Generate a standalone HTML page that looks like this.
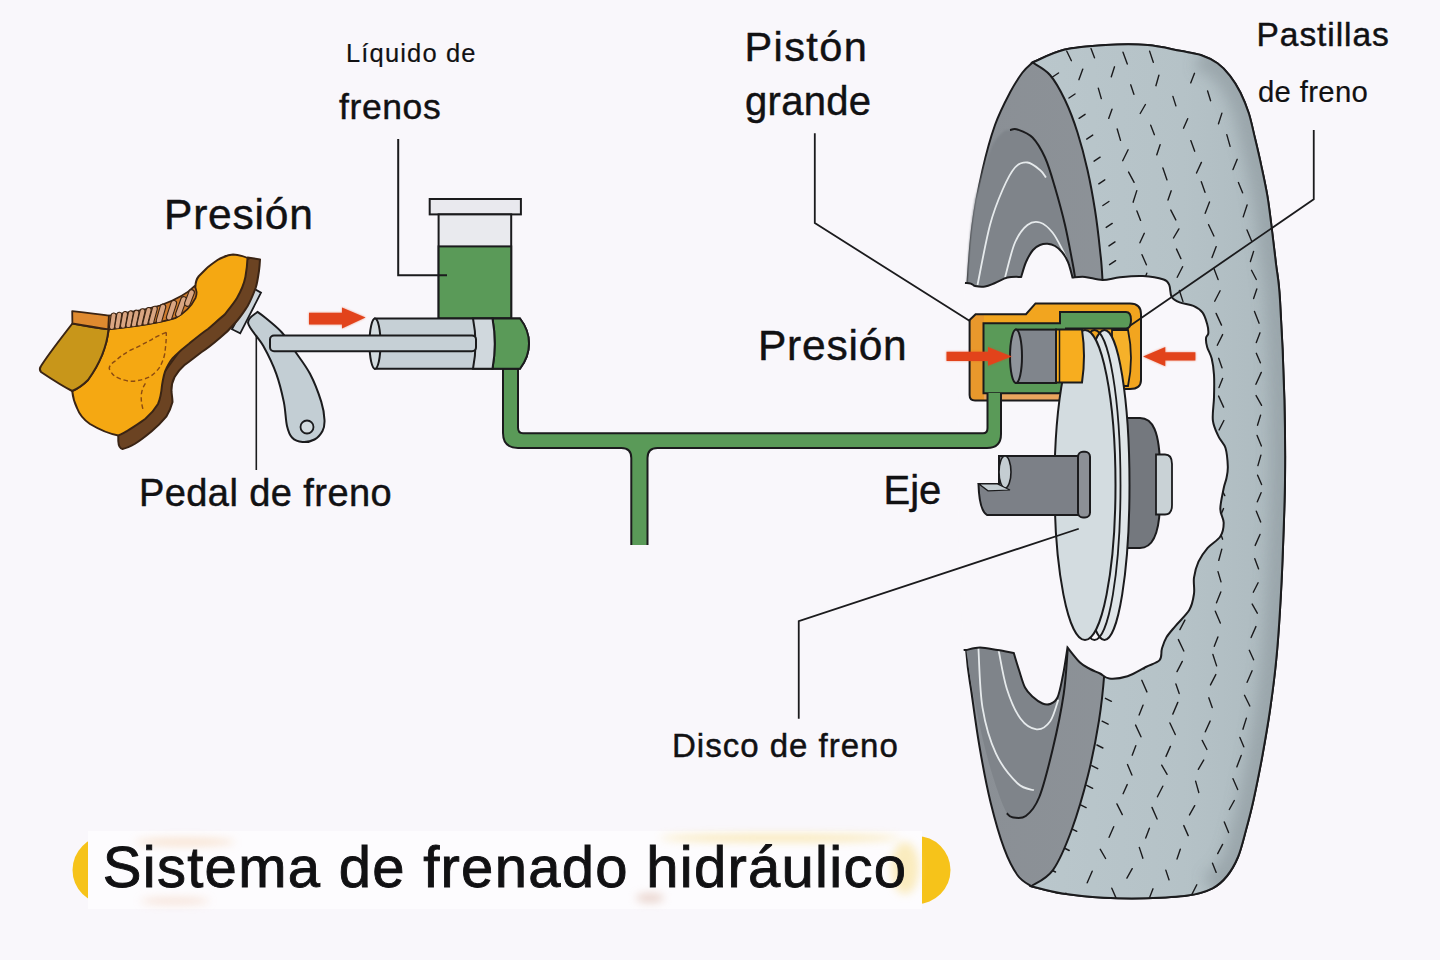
<!DOCTYPE html>
<html><head><meta charset="utf-8"><title>Sistema de frenado hidráulico</title>
<style>html,body{margin:0;padding:0;background:#f9f7fb;} svg{display:block;}</style>
</head><body>
<svg width="1440" height="960" viewBox="0 0 1440 960">
<rect width="1440" height="960" fill="#f9f7fb"/>
<defs><mask id="tm"><rect width="1440" height="960" fill="black"/><path d="M1032.5,62.5 C1037.8,60.4 1051.8,52.7 1064.0,49.8 C1076.2,46.9 1091.9,45.8 1105.8,45.0 C1119.7,44.2 1135.1,44.0 1147.5,45.0 C1159.9,46.0 1171.1,49.1 1180.0,50.8 C1188.9,52.5 1194.5,52.9 1200.8,55.0 C1207.0,57.1 1212.6,59.8 1217.5,63.3 C1222.4,66.8 1226.2,70.9 1230.0,75.8 C1233.8,80.7 1237.3,86.2 1240.4,92.5 C1243.5,98.8 1246.3,105.7 1248.8,113.3 C1251.2,120.9 1252.9,129.6 1255.0,138.3 C1257.1,147.0 1259.2,155.7 1261.2,165.4 C1263.3,175.1 1265.8,186.3 1267.5,196.7 C1269.2,207.1 1270.3,216.8 1271.7,228.0 C1273.1,239.2 1274.6,252.0 1276.0,264.0 C1277.4,276.0 1278.6,277.3 1280.0,300.0 C1281.4,322.7 1283.6,370.0 1284.4,400.0 C1285.2,430.0 1285.3,453.3 1285.0,480.0 C1284.7,506.7 1283.3,538.3 1282.5,560.0 C1281.7,581.7 1281.0,593.3 1280.0,610.0 C1279.0,626.7 1277.9,643.3 1276.2,660.0 C1274.6,676.7 1272.3,694.2 1270.0,710.0 C1267.7,725.8 1265.2,740.0 1262.5,755.0 C1259.8,770.0 1256.2,787.5 1253.5,800.0 C1250.8,812.5 1248.6,820.5 1246.0,830.0 C1243.4,839.5 1241.2,849.3 1238.0,857.0 C1234.8,864.7 1231.2,870.8 1227.0,876.0 C1222.8,881.2 1219.1,885.0 1212.5,888.3 C1205.9,891.6 1198.6,893.9 1187.5,895.6 C1176.4,897.3 1159.7,897.9 1145.8,898.3 C1131.9,898.6 1117.9,898.5 1104.0,897.7 C1090.1,896.9 1074.6,895.4 1062.5,893.5 C1050.4,891.6 1036.5,887.5 1031.2,886.2 L1031.2,886.2 C1029.0,884.5 1022.2,881.8 1017.7,875.5 C1013.2,869.2 1008.6,860.6 1004.1,848.4 C999.6,836.2 994.7,819.1 990.6,802.4 C986.5,785.7 982.9,766.4 979.8,748.3 C976.6,730.2 974.0,710.2 971.7,694.0 C969.4,677.8 967.8,673.1 966.2,650.8 C964.6,628.5 963.0,590.1 962.0,560.0 C961.0,529.9 960.0,500.0 960.0,470.0 C960.0,440.0 960.8,411.2 962.0,380.0 C963.2,348.8 965.8,308.3 967.5,282.5 C969.2,256.7 970.0,243.8 972.5,225.0 C975.0,206.2 978.8,186.7 982.5,170.0 C986.2,153.3 990.4,137.9 995.0,125.0 C999.6,112.1 1005.4,101.2 1010.0,92.5 C1014.6,83.8 1018.8,77.5 1022.5,72.5 C1026.2,67.5 1030.8,64.2 1032.5,62.5 Z" fill="white" stroke="white" stroke-width="5"/></mask><linearGradient id="tg" x1="0" x2="1" y1="0" y2="0"><stop offset="0" stop-color="#bac7cc"/><stop offset="0.6" stop-color="#b5c2c7"/><stop offset="1" stop-color="#adbabf"/></linearGradient><linearGradient id="sg" x1="0" x2="1" y1="0" y2="0"><stop offset="0" stop-color="#8a8f95"/><stop offset="1" stop-color="#8f959a"/></linearGradient><filter id="bl" x="-20%" y="-50%" width="140%" height="200%"><feGaussianBlur stdDeviation="1.2"/></filter><filter id="bl3" x="-20%" y="-20%" width="140%" height="140%"><feGaussianBlur stdDeviation="4"/></filter><filter id="bl6" x="-50%" y="-10%" width="200%" height="120%"><feGaussianBlur stdDeviation="7"/></filter></defs>
<path d="M1032.5,62.5 C1037.8,60.4 1051.8,52.7 1064.0,49.8 C1076.2,46.9 1091.9,45.8 1105.8,45.0 C1119.7,44.2 1135.1,44.0 1147.5,45.0 C1159.9,46.0 1171.1,49.1 1180.0,50.8 C1188.9,52.5 1194.5,52.9 1200.8,55.0 C1207.0,57.1 1212.6,59.8 1217.5,63.3 C1222.4,66.8 1226.2,70.9 1230.0,75.8 C1233.8,80.7 1237.3,86.2 1240.4,92.5 C1243.5,98.8 1246.3,105.7 1248.8,113.3 C1251.2,120.9 1252.9,129.6 1255.0,138.3 C1257.1,147.0 1259.2,155.7 1261.2,165.4 C1263.3,175.1 1265.8,186.3 1267.5,196.7 C1269.2,207.1 1270.3,216.8 1271.7,228.0 C1273.1,239.2 1274.6,252.0 1276.0,264.0 C1277.4,276.0 1278.6,277.3 1280.0,300.0 C1281.4,322.7 1283.6,370.0 1284.4,400.0 C1285.2,430.0 1285.3,453.3 1285.0,480.0 C1284.7,506.7 1283.3,538.3 1282.5,560.0 C1281.7,581.7 1281.0,593.3 1280.0,610.0 C1279.0,626.7 1277.9,643.3 1276.2,660.0 C1274.6,676.7 1272.3,694.2 1270.0,710.0 C1267.7,725.8 1265.2,740.0 1262.5,755.0 C1259.8,770.0 1256.2,787.5 1253.5,800.0 C1250.8,812.5 1248.6,820.5 1246.0,830.0 C1243.4,839.5 1241.2,849.3 1238.0,857.0 C1234.8,864.7 1231.2,870.8 1227.0,876.0 C1222.8,881.2 1219.1,885.0 1212.5,888.3 C1205.9,891.6 1198.6,893.9 1187.5,895.6 C1176.4,897.3 1159.7,897.9 1145.8,898.3 C1131.9,898.6 1117.9,898.5 1104.0,897.7 C1090.1,896.9 1074.6,895.4 1062.5,893.5 C1050.4,891.6 1036.5,887.5 1031.2,886.2 L1031.2,886.2 C1029.0,884.5 1022.2,881.8 1017.7,875.5 C1013.2,869.2 1008.6,860.6 1004.1,848.4 C999.6,836.2 994.7,819.1 990.6,802.4 C986.5,785.7 982.9,766.4 979.8,748.3 C976.6,730.2 974.0,710.2 971.7,694.0 C969.4,677.8 967.8,673.1 966.2,650.8 C964.6,628.5 963.0,590.1 962.0,560.0 C961.0,529.9 960.0,500.0 960.0,470.0 C960.0,440.0 960.8,411.2 962.0,380.0 C963.2,348.8 965.8,308.3 967.5,282.5 C969.2,256.7 970.0,243.8 972.5,225.0 C975.0,206.2 978.8,186.7 982.5,170.0 C986.2,153.3 990.4,137.9 995.0,125.0 C999.6,112.1 1005.4,101.2 1010.0,92.5 C1014.6,83.8 1018.8,77.5 1022.5,72.5 C1026.2,67.5 1030.8,64.2 1032.5,62.5 Z" fill="url(#sg)" stroke="#1b1b1d" stroke-width="2"/>
<path d="M1032.5,62.5 C1037.8,60.4 1051.8,52.7 1064.0,49.8 C1076.2,46.9 1091.9,45.8 1105.8,45.0 C1119.7,44.2 1135.1,44.0 1147.5,45.0 C1159.9,46.0 1171.1,49.1 1180.0,50.8 C1188.9,52.5 1194.5,52.9 1200.8,55.0 C1207.0,57.1 1212.6,59.8 1217.5,63.3 C1222.4,66.8 1226.2,70.9 1230.0,75.8 C1233.8,80.7 1237.3,86.2 1240.4,92.5 C1243.5,98.8 1246.3,105.7 1248.8,113.3 C1251.2,120.9 1252.9,129.6 1255.0,138.3 C1257.1,147.0 1259.2,155.7 1261.2,165.4 C1263.3,175.1 1265.8,186.3 1267.5,196.7 C1269.2,207.1 1270.3,216.8 1271.7,228.0 C1273.1,239.2 1274.6,252.0 1276.0,264.0 C1277.4,276.0 1278.6,277.3 1280.0,300.0 C1281.4,322.7 1283.6,370.0 1284.4,400.0 C1285.2,430.0 1285.3,453.3 1285.0,480.0 C1284.7,506.7 1283.3,538.3 1282.5,560.0 C1281.7,581.7 1281.0,593.3 1280.0,610.0 C1279.0,626.7 1277.9,643.3 1276.2,660.0 C1274.6,676.7 1272.3,694.2 1270.0,710.0 C1267.7,725.8 1265.2,740.0 1262.5,755.0 C1259.8,770.0 1256.2,787.5 1253.5,800.0 C1250.8,812.5 1248.6,820.5 1246.0,830.0 C1243.4,839.5 1241.2,849.3 1238.0,857.0 C1234.8,864.7 1231.2,870.8 1227.0,876.0 C1222.8,881.2 1219.1,885.0 1212.5,888.3 C1205.9,891.6 1198.6,893.9 1187.5,895.6 C1176.4,897.3 1159.7,897.9 1145.8,898.3 C1131.9,898.6 1117.9,898.5 1104.0,897.7 C1090.1,896.9 1074.6,895.4 1062.5,893.5 C1050.4,891.6 1036.5,887.5 1031.2,886.2 L1031.2,886.2 C1034.9,883.6 1046.1,879.6 1052.9,870.1 C1059.7,860.6 1066.0,845.3 1071.8,829.5 C1077.6,813.7 1083.5,793.3 1088.0,775.3 C1092.5,757.2 1096.2,738.1 1098.9,721.2 C1101.6,704.3 1102.8,694.0 1104.3,673.8 C1105.8,653.6 1107.0,632.3 1108.0,600.0 C1109.0,567.7 1110.2,516.7 1110.0,480.0 C1109.8,443.3 1108.2,413.3 1107.0,380.0 C1105.8,346.7 1103.7,301.7 1102.5,280.0 C1101.3,258.3 1101.2,261.7 1100.0,250.0 C1098.8,238.3 1097.1,223.3 1095.0,210.0 C1092.9,196.7 1090.4,182.9 1087.5,170.0 C1084.6,157.1 1081.2,144.2 1077.5,132.5 C1073.8,120.8 1069.6,109.6 1065.0,100.0 C1060.4,90.4 1055.4,81.2 1050.0,75.0 C1044.6,68.8 1035.4,64.6 1032.5,62.5 Z" fill="url(#tg)"/>
<clipPath id="tc2"><path d="M1032.5,62.5 C1037.8,60.4 1051.8,52.7 1064.0,49.8 C1076.2,46.9 1091.9,45.8 1105.8,45.0 C1119.7,44.2 1135.1,44.0 1147.5,45.0 C1159.9,46.0 1171.1,49.1 1180.0,50.8 C1188.9,52.5 1194.5,52.9 1200.8,55.0 C1207.0,57.1 1212.6,59.8 1217.5,63.3 C1222.4,66.8 1226.2,70.9 1230.0,75.8 C1233.8,80.7 1237.3,86.2 1240.4,92.5 C1243.5,98.8 1246.3,105.7 1248.8,113.3 C1251.2,120.9 1252.9,129.6 1255.0,138.3 C1257.1,147.0 1259.2,155.7 1261.2,165.4 C1263.3,175.1 1265.8,186.3 1267.5,196.7 C1269.2,207.1 1270.3,216.8 1271.7,228.0 C1273.1,239.2 1274.6,252.0 1276.0,264.0 C1277.4,276.0 1278.6,277.3 1280.0,300.0 C1281.4,322.7 1283.6,370.0 1284.4,400.0 C1285.2,430.0 1285.3,453.3 1285.0,480.0 C1284.7,506.7 1283.3,538.3 1282.5,560.0 C1281.7,581.7 1281.0,593.3 1280.0,610.0 C1279.0,626.7 1277.9,643.3 1276.2,660.0 C1274.6,676.7 1272.3,694.2 1270.0,710.0 C1267.7,725.8 1265.2,740.0 1262.5,755.0 C1259.8,770.0 1256.2,787.5 1253.5,800.0 C1250.8,812.5 1248.6,820.5 1246.0,830.0 C1243.4,839.5 1241.2,849.3 1238.0,857.0 C1234.8,864.7 1231.2,870.8 1227.0,876.0 C1222.8,881.2 1219.1,885.0 1212.5,888.3 C1205.9,891.6 1198.6,893.9 1187.5,895.6 C1176.4,897.3 1159.7,897.9 1145.8,898.3 C1131.9,898.6 1117.9,898.5 1104.0,897.7 C1090.1,896.9 1074.6,895.4 1062.5,893.5 C1050.4,891.6 1036.5,887.5 1031.2,886.2 L1031.2,886.2 C1034.9,883.6 1046.1,879.6 1052.9,870.1 C1059.7,860.6 1066.0,845.3 1071.8,829.5 C1077.6,813.7 1083.5,793.3 1088.0,775.3 C1092.5,757.2 1096.2,738.1 1098.9,721.2 C1101.6,704.3 1102.8,694.0 1104.3,673.8 C1105.8,653.6 1107.0,632.3 1108.0,600.0 C1109.0,567.7 1110.2,516.7 1110.0,480.0 C1109.8,443.3 1108.2,413.3 1107.0,380.0 C1105.8,346.7 1103.7,301.7 1102.5,280.0 C1101.3,258.3 1101.2,261.7 1100.0,250.0 C1098.8,238.3 1097.1,223.3 1095.0,210.0 C1092.9,196.7 1090.4,182.9 1087.5,170.0 C1084.6,157.1 1081.2,144.2 1077.5,132.5 C1073.8,120.8 1069.6,109.6 1065.0,100.0 C1060.4,90.4 1055.4,81.2 1050.0,75.0 C1044.6,68.8 1035.4,64.6 1032.5,62.5 Z"/></clipPath><g clip-path="url(#tc2)"><path d="M1200.8,55.0 C1203.6,56.4 1212.6,59.8 1217.5,63.3 C1222.4,66.8 1226.2,70.9 1230.0,75.8 C1233.8,80.7 1237.3,86.2 1240.4,92.5 C1243.5,98.8 1246.3,105.7 1248.8,113.3 C1251.2,120.9 1252.9,129.6 1255.0,138.3 C1257.1,147.0 1259.2,155.7 1261.2,165.4 C1263.3,175.1 1265.8,186.3 1267.5,196.7 C1269.2,207.1 1270.3,216.8 1271.7,228.0 C1273.1,239.2 1274.6,252.0 1276.0,264.0 C1277.4,276.0 1278.6,277.3 1280.0,300.0 C1281.4,322.7 1283.6,370.0 1284.4,400.0 C1285.2,430.0 1285.3,453.3 1285.0,480.0 C1284.7,506.7 1283.3,538.3 1282.5,560.0 C1281.7,581.7 1281.0,593.3 1280.0,610.0 C1279.0,626.7 1277.9,643.3 1276.2,660.0 C1274.6,676.7 1272.3,694.2 1270.0,710.0 C1267.7,725.8 1265.2,740.0 1262.5,755.0 C1259.8,770.0 1256.2,787.5 1253.5,800.0 C1250.8,812.5 1248.6,820.5 1246.0,830.0 C1243.4,839.5 1241.2,849.3 1238.0,857.0 C1234.8,864.7 1231.2,870.8 1227.0,876.0 C1222.8,881.2 1214.9,886.2 1212.5,888.3" fill="none" stroke="#97a3a8" stroke-width="30" filter="url(#bl6)" opacity="0.85"/></g>
<path d="M1032.5,62.5 C1037.8,60.4 1051.8,52.7 1064.0,49.8 C1076.2,46.9 1091.9,45.8 1105.8,45.0 C1119.7,44.2 1135.1,44.0 1147.5,45.0 C1159.9,46.0 1171.1,49.1 1180.0,50.8 C1188.9,52.5 1194.5,52.9 1200.8,55.0 C1207.0,57.1 1212.6,59.8 1217.5,63.3 C1222.4,66.8 1226.2,70.9 1230.0,75.8 C1233.8,80.7 1237.3,86.2 1240.4,92.5 C1243.5,98.8 1246.3,105.7 1248.8,113.3 C1251.2,120.9 1252.9,129.6 1255.0,138.3 C1257.1,147.0 1259.2,155.7 1261.2,165.4 C1263.3,175.1 1265.8,186.3 1267.5,196.7 C1269.2,207.1 1270.3,216.8 1271.7,228.0 C1273.1,239.2 1274.6,252.0 1276.0,264.0 C1277.4,276.0 1278.6,277.3 1280.0,300.0 C1281.4,322.7 1283.6,370.0 1284.4,400.0 C1285.2,430.0 1285.3,453.3 1285.0,480.0 C1284.7,506.7 1283.3,538.3 1282.5,560.0 C1281.7,581.7 1281.0,593.3 1280.0,610.0 C1279.0,626.7 1277.9,643.3 1276.2,660.0 C1274.6,676.7 1272.3,694.2 1270.0,710.0 C1267.7,725.8 1265.2,740.0 1262.5,755.0 C1259.8,770.0 1256.2,787.5 1253.5,800.0 C1250.8,812.5 1248.6,820.5 1246.0,830.0 C1243.4,839.5 1241.2,849.3 1238.0,857.0 C1234.8,864.7 1231.2,870.8 1227.0,876.0 C1222.8,881.2 1219.1,885.0 1212.5,888.3 C1205.9,891.6 1198.6,893.9 1187.5,895.6 C1176.4,897.3 1159.7,897.9 1145.8,898.3 C1131.9,898.6 1117.9,898.5 1104.0,897.7 C1090.1,896.9 1074.6,895.4 1062.5,893.5 C1050.4,891.6 1036.5,887.5 1031.2,886.2 L1031.2,886.2 C1034.9,883.6 1046.1,879.6 1052.9,870.1 C1059.7,860.6 1066.0,845.3 1071.8,829.5 C1077.6,813.7 1083.5,793.3 1088.0,775.3 C1092.5,757.2 1096.2,738.1 1098.9,721.2 C1101.6,704.3 1102.8,694.0 1104.3,673.8 C1105.8,653.6 1107.0,632.3 1108.0,600.0 C1109.0,567.7 1110.2,516.7 1110.0,480.0 C1109.8,443.3 1108.2,413.3 1107.0,380.0 C1105.8,346.7 1103.7,301.7 1102.5,280.0 C1101.3,258.3 1101.2,261.7 1100.0,250.0 C1098.8,238.3 1097.1,223.3 1095.0,210.0 C1092.9,196.7 1090.4,182.9 1087.5,170.0 C1084.6,157.1 1081.2,144.2 1077.5,132.5 C1073.8,120.8 1069.6,109.6 1065.0,100.0 C1060.4,90.4 1055.4,81.2 1050.0,75.0 C1044.6,68.8 1035.4,64.6 1032.5,62.5 Z" fill="none" stroke="#1b1b1d" stroke-width="2"/>
<path d="M975.0,200.0 C977.5,191.7 985.3,161.3 990.0,150.0 C994.7,138.7 999.7,135.3 1003.0,132.0 C1006.3,128.7 1007.6,130.4 1010.0,130.0 C1012.4,129.6 1013.8,128.2 1017.5,129.5 C1021.2,130.8 1027.9,132.8 1032.5,137.5 C1037.1,142.2 1041.2,149.2 1045.0,157.5 C1048.8,165.8 1051.7,176.2 1055.0,187.5 C1058.3,198.8 1062.1,212.5 1065.0,225.0 C1067.9,237.5 1070.8,253.8 1072.5,262.5 C1074.2,271.2 1074.6,275.0 1075.0,277.5 L1075,285 L967,285 C968,260 970,230 975,200 Z" fill="#7f848a" filter="url(#bl)"/>
<path d="M1010.0,130.0 C1011.2,129.9 1013.8,128.2 1017.5,129.5 C1021.2,130.8 1027.9,132.8 1032.5,137.5 C1037.1,142.2 1041.2,149.2 1045.0,157.5 C1048.8,165.8 1051.7,176.2 1055.0,187.5 C1058.3,198.8 1062.1,212.5 1065.0,225.0 C1067.9,237.5 1070.8,253.8 1072.5,262.5 C1074.2,271.2 1074.6,275.0 1075.0,277.5" fill="none" stroke="#1b1b1d" stroke-width="2"/>
<path d="M977.5,285.0 C979.6,275.0 985.8,240.8 990.0,225.0 C994.2,209.2 998.3,199.6 1002.5,190.0 C1006.7,180.4 1010.8,172.1 1015.0,167.5 C1019.2,162.9 1023.3,162.1 1027.5,162.5 C1031.7,162.9 1036.9,167.5 1040.0,170.0 C1043.1,172.5 1045.0,176.2 1046.0,177.5" fill="none" stroke="#e6eaec" stroke-width="1.8"/>
<path d="M1005.0,277.5 C1006.7,271.7 1011.2,251.2 1015.0,242.5 C1018.8,233.8 1023.3,228.3 1027.5,225.0 C1031.7,221.7 1035.8,221.2 1040.0,222.5 C1044.2,223.8 1048.8,227.9 1052.5,232.5 C1056.2,237.1 1059.6,244.2 1062.5,250.0 C1065.4,255.8 1068.8,264.6 1070.0,267.5" fill="none" stroke="#e6eaec" stroke-width="1.8"/>
<path d="M966,648 L1068,648 L1067.8,648.1 C1067.1,655.8 1066.2,677.3 1063.7,694.0 C1061.2,710.7 1057.0,731.1 1052.9,748.3 C1048.8,765.5 1043.8,785.7 1039.3,797.0 C1034.8,808.3 1030.3,812.6 1025.8,816.0 C1021.3,819.4 1015.5,817.8 1012.3,817.3 C1009.1,816.8 1007.7,814.0 1006.8,813.3 C1000,800 990,770 983,740 C976,710 970,680 966,648 Z" fill="#7f848a"/>
<path d="M1067.8,648.1 C1067.1,655.8 1066.2,677.3 1063.7,694.0 C1061.2,710.7 1057.0,731.1 1052.9,748.3 C1048.8,765.5 1043.8,785.7 1039.3,797.0 C1034.8,808.3 1030.3,812.6 1025.8,816.0 C1021.3,819.4 1015.5,817.8 1012.3,817.3 C1009.1,816.8 1007.7,814.0 1006.8,813.3" fill="none" stroke="#1b1b1d" stroke-width="2"/>
<path d="M978.4,648.0 C979.1,658.0 979.6,690.1 982.5,707.7 C985.4,725.3 990.1,741.1 996.0,753.7 C1001.9,766.3 1011.4,777.4 1017.7,783.5 C1024.0,789.6 1031.2,789.1 1033.9,790.2" fill="none" stroke="#e6eaec" stroke-width="1.8"/>
<path d="M998.7,650.8 C1000.1,657.1 1003.2,677.4 1006.8,688.7 C1010.4,700.0 1015.4,711.7 1020.4,718.5 C1025.4,725.3 1031.6,728.8 1036.6,729.3 C1041.6,729.8 1046.6,726.2 1050.2,721.2 C1053.8,716.2 1057.0,703.2 1058.3,699.6" fill="none" stroke="#e6eaec" stroke-width="1.8"/>
<clipPath id="tc"><path d="M1032.5,62.5 C1037.8,60.4 1051.8,52.7 1064.0,49.8 C1076.2,46.9 1091.9,45.8 1105.8,45.0 C1119.7,44.2 1135.1,44.0 1147.5,45.0 C1159.9,46.0 1171.1,49.1 1180.0,50.8 C1188.9,52.5 1194.5,52.9 1200.8,55.0 C1207.0,57.1 1212.6,59.8 1217.5,63.3 C1222.4,66.8 1226.2,70.9 1230.0,75.8 C1233.8,80.7 1237.3,86.2 1240.4,92.5 C1243.5,98.8 1246.3,105.7 1248.8,113.3 C1251.2,120.9 1252.9,129.6 1255.0,138.3 C1257.1,147.0 1259.2,155.7 1261.2,165.4 C1263.3,175.1 1265.8,186.3 1267.5,196.7 C1269.2,207.1 1270.3,216.8 1271.7,228.0 C1273.1,239.2 1274.6,252.0 1276.0,264.0 C1277.4,276.0 1278.6,277.3 1280.0,300.0 C1281.4,322.7 1283.6,370.0 1284.4,400.0 C1285.2,430.0 1285.3,453.3 1285.0,480.0 C1284.7,506.7 1283.3,538.3 1282.5,560.0 C1281.7,581.7 1281.0,593.3 1280.0,610.0 C1279.0,626.7 1277.9,643.3 1276.2,660.0 C1274.6,676.7 1272.3,694.2 1270.0,710.0 C1267.7,725.8 1265.2,740.0 1262.5,755.0 C1259.8,770.0 1256.2,787.5 1253.5,800.0 C1250.8,812.5 1248.6,820.5 1246.0,830.0 C1243.4,839.5 1241.2,849.3 1238.0,857.0 C1234.8,864.7 1231.2,870.8 1227.0,876.0 C1222.8,881.2 1219.1,885.0 1212.5,888.3 C1205.9,891.6 1198.6,893.9 1187.5,895.6 C1176.4,897.3 1159.7,897.9 1145.8,898.3 C1131.9,898.6 1117.9,898.5 1104.0,897.7 C1090.1,896.9 1074.6,895.4 1062.5,893.5 C1050.4,891.6 1036.5,887.5 1031.2,886.2 L1031.2,886.2 C1034.9,883.6 1046.1,879.6 1052.9,870.1 C1059.7,860.6 1066.0,845.3 1071.8,829.5 C1077.6,813.7 1083.5,793.3 1088.0,775.3 C1092.5,757.2 1096.2,738.1 1098.9,721.2 C1101.6,704.3 1102.8,694.0 1104.3,673.8 C1105.8,653.6 1107.0,632.3 1108.0,600.0 C1109.0,567.7 1110.2,516.7 1110.0,480.0 C1109.8,443.3 1108.2,413.3 1107.0,380.0 C1105.8,346.7 1103.7,301.7 1102.5,280.0 C1101.3,258.3 1101.2,261.7 1100.0,250.0 C1098.8,238.3 1097.1,223.3 1095.0,210.0 C1092.9,196.7 1090.4,182.9 1087.5,170.0 C1084.6,157.1 1081.2,144.2 1077.5,132.5 C1073.8,120.8 1069.6,109.6 1065.0,100.0 C1060.4,90.4 1055.4,81.2 1050.0,75.0 C1044.6,68.8 1035.4,64.6 1032.5,62.5 Z"/></clipPath><path d="M1066.8,51.2L1071.4,60.7 M1082.8,69.1L1078.9,79.7 M1098.3,88.1L1101.3,98.6 M1112.0,109.2L1108.7,118.4 M1117.2,129.0L1120.5,140.4 M1128.1,149.8L1122.7,160.7 M1128.6,172.1L1134.1,182.3 M1136.8,190.6L1133.1,202.2 M1136.9,211.0L1140.6,220.4 M1144.3,233.3L1139.9,242.8 M1142.0,254.7L1146.4,264.8 M1146.8,273.2L1143.3,282.3 M1144.2,294.4L1148.0,304.7 M1149.0,316.2L1145.3,326.6 M1146.3,339.3L1149.9,350.4 M1151.5,361.9L1146.3,372.5 M1146.9,384.8L1152.3,394.7 M1152.6,403.4L1147.7,413.7 M1149.1,422.6L1152.2,433.0 M1153.4,445.1L1148.9,456.3 M1149.4,469.6L1154.1,479.5 M1153.7,491.1L1149.6,501.8 M1149.3,514.9L1153.5,526.7 M1153.5,538.7L1148.8,547.9 M1148.4,559.8L1153.5,571.7 M1152.3,581.5L1147.7,591.6 M1147.5,599.7L1150.9,610.1 M1150.8,618.8L1145.9,628.0 M1145.4,636.8L1149.3,646.5 M1148.1,659.8L1144.0,669.0 M1141.8,680.3L1146.9,691.9 M1143.1,705.1L1139.1,715.0 M1135.6,725.1L1141.0,736.8 M1135.8,745.7L1132.2,755.2 M1127.5,764.6L1131.9,775.1 M1127.2,784.6L1123.1,793.7 M1116.9,803.9L1122.3,814.6 M1113.7,826.7L1109.1,837.3 M1100.3,849.3L1105.6,858.5 M1092.2,871.2L1087.2,882.8 M1066.0,893.1L1069.2,903.3 M1091.0,48.6L1094.5,57.8 M1114.5,66.8L1111.3,76.8 M1130.7,84.8L1133.9,94.3 M1145.4,104.5L1140.2,113.5 M1150.7,125.2L1154.4,134.7 M1160.1,144.7L1156.8,154.8 M1162.9,167.9L1167.0,179.9 M1171.2,190.8L1168.0,200.1 M1170.8,210.1L1175.8,219.9 M1178.9,228.9L1173.5,238.0 M1176.5,249.1L1180.9,258.6 M1182.6,266.7L1177.2,277.3 M1179.4,290.5L1183.0,301.6 M1184.8,311.8L1179.9,321.3 M1181.6,332.5L1185.4,343.8 M1186.7,353.2L1181.3,364.6 M1182.1,377.7L1187.2,389.1 M1187.4,401.6L1183.1,411.2 M1184.1,421.4L1187.1,430.5 M1188.3,440.1L1183.6,449.9 M1183.7,463.7L1189.1,474.0 M1188.4,487.9L1184.5,499.8 M1184.3,509.1L1187.8,518.8 M1188.3,528.0L1183.0,538.9 M1182.9,551.9L1187.5,562.4 M1186.7,575.2L1182.1,584.4 M1181.0,597.9L1185.8,609.2 M1184.9,620.1L1179.9,629.6 M1178.4,639.6L1183.8,651.0 M1182.3,661.4L1177.0,671.6 M1175.9,684.0L1179.2,693.5 M1177.8,702.4L1172.8,714.1 M1169.9,723.0L1175.3,734.5 M1170.4,746.4L1166.0,756.4 M1161.7,765.2L1167.1,774.3 M1162.8,786.2L1157.4,796.8 M1152.0,807.4L1157.1,819.0 M1149.4,828.2L1145.7,838.0 M1139.3,847.4L1142.9,858.2 M1132.2,868.7L1126.9,878.1 M1111.8,888.2L1116.3,898.6 M1123.0,52.2L1127.3,64.0 M1158.9,75.2L1155.9,85.7 M1172.9,96.4L1175.9,105.9 M1187.7,118.7L1183.5,128.2 M1190.8,140.6L1194.7,151.2 M1201.4,162.4L1196.5,173.0 M1201.3,181.7L1205.0,192.3 M1209.5,202.0L1205.2,213.3 M1208.6,224.7L1213.9,236.0 M1216.2,246.6L1212.0,257.5 M1213.9,268.5L1218.1,279.6 M1220.1,290.8L1214.7,301.2 M1216.1,313.4L1221.5,325.1 M1222.6,334.6L1217.3,345.3 M1218.7,358.3L1222.0,367.8 M1222.6,378.4L1219.0,387.6 M1218.6,396.1L1223.6,407.1 M1223.9,420.5L1219.1,429.9 M1219.2,441.9L1224.4,451.3 M1224.8,465.1L1219.4,474.8 M1219.3,485.2L1224.8,495.6 M1223.5,508.6L1219.4,518.1 M1219.1,529.2L1222.6,539.2 M1221.8,549.1L1218.8,560.3 M1218.0,571.6L1221.0,581.9 M1220.8,591.9L1216.5,602.8 M1215.3,611.2L1220.3,623.1 M1217.9,637.0L1214.3,646.3 M1212.9,654.5L1216.6,665.9 M1215.8,674.6L1210.5,684.9 M1208.8,697.8L1212.2,707.6 M1210.1,721.1L1205.3,731.8 M1202.2,740.4L1206.9,749.5 M1203.7,760.1L1198.3,769.3 M1195.6,781.1L1198.8,792.5 M1194.7,805.7L1189.5,814.9 M1183.8,825.6L1188.2,835.6 M1180.3,849.2L1177.0,859.0 M1165.8,870.1L1169.0,879.8 M1153.0,888.8L1149.4,898.0 M1149.6,51.1L1153.3,62.3 M1194.5,73.3L1190.7,82.9 M1207.6,91.0L1210.6,100.7 M1221.9,113.1L1218.5,123.8 M1226.8,134.6L1230.1,146.4 M1237.2,159.3L1233.0,169.6 M1238.4,182.6L1242.6,192.8 M1247.1,205.0L1243.2,216.9 M1247.0,229.9L1251.6,241.0 M1253.6,251.4L1250.4,261.5 M1251.5,270.3L1256.3,279.5 M1256.8,289.0L1253.6,298.5 M1254.5,311.5L1259.1,323.2 M1260.0,332.8L1256.3,342.6 M1256.3,353.3L1260.4,362.8 M1261.3,372.4L1255.9,384.3 M1256.1,395.6L1261.6,405.3 M1260.6,415.1L1257.5,425.2 M1257.1,435.5L1261.4,445.9 M1260.9,455.1L1257.9,465.6 M1257.6,475.2L1261.6,484.5 M1261.1,492.7L1257.3,501.8 M1256.3,511.2L1260.7,522.0 M1260.0,534.5L1255.2,545.4 M1254.8,558.7L1258.6,568.9 M1258.1,582.8L1253.3,592.2 M1252.2,604.1L1257.3,613.2 M1255.9,626.6L1251.1,637.5 M1249.3,650.3L1253.6,659.8 M1252.1,670.8L1247.1,682.3 M1244.5,695.3L1249.8,706.0 M1246.4,718.1L1242.9,729.2 M1239.9,737.4L1243.8,746.8 M1241.2,755.4L1236.8,766.9 M1233.0,778.7L1237.7,789.5 M1234.3,800.5L1229.3,809.5 M1224.3,822.0L1228.6,832.5 M1222.6,844.4L1217.7,853.6 M1212.5,863.2L1216.2,872.4 M1196.8,884.8L1191.9,894.4 M1052.5,77.0L1058.5,73.0 M1069.0,98.0L1075.0,94.0 M1079.1,118.3L1085.1,114.3 M1086.7,139.1L1092.7,135.1 M1094.1,161.2L1100.1,157.2 M1098.8,183.8L1104.8,179.8 M1102.9,205.5L1108.9,201.5 M1106.2,227.4L1112.2,223.4 M1109.0,245.9L1115.0,241.9 M1109.6,264.7L1115.6,260.7 M1110.2,284.3L1116.2,280.3 M1105.4,698.3L1111.4,701.3 M1102.1,721.2L1108.1,724.2 M1096.9,745.0L1102.9,748.0 M1091.7,765.7L1097.7,768.7 M1086.7,785.3L1092.7,788.3 M1080.1,804.6L1086.1,807.6 M1070.8,828.3L1076.8,831.3 M1063.2,847.5L1069.2,850.5 M1049.5,869.0L1055.5,872.0" stroke="#1b1b1d" stroke-width="1.4" fill="none" stroke-linecap="round" clip-path="url(#tc)"/>
<g mask="url(#tm)"><path d="M930.0,283.0 C936.1,283.0 959.4,282.5 966.9,283.0 C974.4,283.5 972.0,285.4 975.0,286.0 C978.0,286.6 981.7,287.0 985.0,286.5 C988.3,286.0 991.2,284.5 995.0,283.0 C998.8,281.5 1003.1,278.5 1007.5,277.5 C1011.9,276.5 1019.0,277.0 1021.2,276.9 L1021.2,276.9 C1022.0,274.4 1024.0,266.5 1026.0,262.0 C1028.0,257.5 1030.7,252.8 1033.0,250.0 C1035.3,247.2 1037.6,246.0 1040.0,245.0 C1042.4,244.0 1045.0,243.6 1047.5,243.8 C1050.0,244.0 1052.6,244.6 1055.0,246.0 C1057.4,247.4 1059.8,249.3 1062.0,252.0 C1064.2,254.7 1066.2,257.8 1068.0,262.0 C1069.8,266.2 1071.8,274.9 1072.5,277.5 L1072.5,277.5 C1074.6,277.4 1080.0,276.5 1085.0,276.9 C1090.0,277.3 1096.7,279.9 1102.5,280.0 C1108.3,280.1 1113.2,277.9 1120.0,277.2 C1126.8,276.5 1135.7,275.6 1143.0,276.0 C1150.3,276.4 1159.2,278.0 1163.6,279.5 C1168.0,281.0 1168.0,282.3 1169.3,285.2 C1170.6,288.1 1169.9,293.8 1171.6,296.7 C1173.3,299.6 1176.0,300.9 1179.6,302.4 C1183.2,303.9 1189.6,304.2 1193.4,305.9 C1197.2,307.6 1200.3,309.6 1202.6,312.7 C1204.9,315.8 1206.2,320.8 1207.2,324.2 C1208.2,327.6 1208.5,331.1 1208.3,333.4 C1208.1,335.7 1206.2,335.7 1206.0,338.0 C1205.8,340.3 1206.2,343.8 1207.2,347.2 C1208.2,350.6 1210.6,354.0 1211.7,358.6 C1212.8,363.2 1213.6,368.2 1214.0,374.7 C1214.4,381.2 1214.2,390.0 1214.0,397.6 C1213.8,405.2 1212.1,414.1 1212.9,420.6 C1213.7,427.1 1216.5,432.0 1218.6,436.6 C1220.7,441.2 1224.0,443.0 1225.5,448.0 C1227.0,453.0 1227.6,461.4 1227.8,466.4 C1228.0,471.4 1227.2,474.4 1226.5,478.0 C1225.8,481.6 1224.7,483.1 1223.7,488.3 C1222.7,493.5 1220.3,503.3 1220.3,509.0 C1220.3,514.7 1223.7,518.1 1223.7,522.7 C1223.7,527.3 1223.0,532.3 1220.3,536.5 C1217.6,540.7 1211.3,543.7 1207.7,547.9 C1204.1,552.1 1200.8,556.7 1198.5,561.7 C1196.2,566.7 1194.8,572.4 1194.0,577.7 C1193.2,583.0 1194.8,588.4 1194.0,593.7 C1193.2,599.1 1192.5,604.4 1189.4,609.8 C1186.3,615.1 1179.4,621.2 1175.6,625.8 C1171.8,630.4 1168.8,633.5 1166.5,637.3 C1164.2,641.1 1163.1,644.9 1161.9,648.7 C1160.8,652.5 1162.3,657.2 1159.6,660.2 C1156.9,663.2 1151.1,664.3 1145.8,667.0 C1140.5,669.7 1133.6,674.3 1127.5,676.2 C1121.4,678.1 1113.8,679.0 1109.2,678.5 C1104.6,678.0 1103.2,675.1 1100.0,673.5 C1096.8,671.9 1093.3,670.8 1090.0,669.0 C1086.7,667.2 1083.8,666.1 1080.0,662.5 C1076.2,658.9 1069.6,650.0 1067.5,647.5 L1067.5,647.5 C1066.8,652.1 1064.7,666.7 1063.0,675.0 C1061.3,683.3 1059.7,692.7 1057.5,697.5 C1055.3,702.3 1052.5,703.0 1050.0,704.0 C1047.5,705.0 1045.3,704.7 1042.5,703.5 C1039.7,702.3 1035.9,699.7 1033.0,697.0 C1030.1,694.3 1027.3,692.0 1025.0,687.5 C1022.7,683.0 1020.9,675.8 1019.0,670.0 C1017.1,664.2 1014.6,655.8 1013.8,653.0 L1013.8,653.0 C1011.0,652.5 1003.1,650.9 997.5,650.0 C991.9,649.1 985.2,647.5 980.0,647.5 C974.8,647.5 968.5,649.6 966.2,650.0 L930,650 Z" fill="#f9f7fb" stroke="#1b1b1d" stroke-width="2"/></g>
<path d="M969.6,320 L975.6,314.2 L1026,314.2 L1035.5,303.4 L1130,303.4 Q1141,303.4 1141,314 L1141,380 Q1141,389 1130,389 L1100,389 L1062,400.5 L975,400.5 Q969.6,400.5 969.6,395 Z" fill="#f2a51f"/>
<path d="M969.6,320 L975.6,314.2 L984,314.2 L984,400.5 L975,400.5 Q969.6,400.5 969.6,395 Z" fill="#e8982c"/>
<rect x="984" y="393" width="78" height="7.5" fill="#e9a55e"/>
<path d="M969.6,320 L975.6,314.2 L1026,314.2 L1035.5,303.4 L1130,303.4 Q1141,303.4 1141,314 L1141,380 Q1141,389 1130,389 L1100,389 L1062,400.5 L975,400.5 Q969.6,400.5 969.6,395 Z" fill="none" stroke="#1b1b1d" stroke-width="2"/>
<path d="M983.5,323.2 L1060,323.2 L1060,312 L1126,312 Q1131,312 1131,320 Q1131,328.6 1126,328.6 L1066,328.6 L1066,385 L1060,393.3 L983.5,393.3 Z" fill="#5a9a58" stroke="#1b1b1d" stroke-width="2"/>
<path d="M1112,330 L1128,330 Q1134,358 1128,386 L1112,386 Z" fill="#f6b12a" stroke="#1b1b1d" stroke-width="1.8"/>
<path d="M631.3,545 L631.3,458 Q631.3,448 621.3,448 L518,448 Q503,448 503,433 L503,369 L518,369 L518,369 L518,427.5 Q518,433.3 523,433.3 L983,433.3 Q987.5,433.3 987.5,428 L987.5,393 L1001,393 L1001,434 Q1001,448 987,448 L657.5,448 Q647.5,448 647.5,458 L647.5,545 Z" fill="#5a9a58"/>
<path d="M631.3,545 L631.3,458 Q631.3,448 621.3,448 L518,448 Q503,448 503,433 L503,369" fill="none" stroke="#1b1b1d" stroke-width="2"/><path d="M518,369 L518,427.5 Q518,433.3 523,433.3 L983,433.3 Q987.5,433.3 987.5,428 L987.5,393" fill="none" stroke="#1b1b1d" stroke-width="2"/><path d="M1001,393 L1001,434 Q1001,448 987,448 L657.5,448 Q647.5,448 647.5,458 L647.5,545" fill="none" stroke="#1b1b1d" stroke-width="2"/>
<path d="M1140,418 C1152,418 1160,430 1160,470 L1160,500 C1160,535 1152,548 1140,548 L1125,548 L1125,418 Z" fill="#74787e" stroke="#1b1b1d" stroke-width="2"/>
<path d="M1156,454.5 L1165,454.5 Q1172,454.5 1172,464 L1172,505 Q1172,514.5 1165,514.5 L1156,514.5 Z" fill="#c9d2d6" stroke="#1b1b1d" stroke-width="1.8"/>
<ellipse cx="1104.5" cy="485" rx="25" ry="155" fill="#dfe5e8" stroke="#1b1b1d" stroke-width="2"/>
<ellipse cx="1094.5" cy="485" rx="26" ry="155" fill="none" stroke="#1b1b1d" stroke-width="1.8"/>
<ellipse cx="1085" cy="485" rx="30.5" ry="155" fill="#d3dce0" stroke="#1b1b1d" stroke-width="2"/>
<path d="M999,456 L1082,456 L1082,515 L987,515 C982,512 979,502 978.5,484 L999,484 Z" fill="#7c8087" stroke="#1b1b1d" stroke-width="2"/>
<ellipse cx="1005" cy="472" rx="6" ry="16" fill="#c4cdd2" stroke="#1b1b1d" stroke-width="1.6"/>
<path d="M979,484 L997.5,484 L1010,490 L988,490.8 Z" fill="#c4cdd2" stroke="#1b1b1d" stroke-width="1.2"/>
<rect x="1078" y="451.7" width="12" height="65.8" rx="5" fill="#8c9096" stroke="#1b1b1d" stroke-width="2"/>
<rect x="1016" y="329.6" width="40" height="53.4" fill="#80858c" stroke="#1b1b1d" stroke-width="2"/>
<ellipse cx="1016" cy="356.3" rx="6" ry="26.7" fill="#8f949b" stroke="#1b1b1d" stroke-width="2"/>
<path d="M1056,329.6 L1082,329.6 Q1086,356 1082,382.5 L1056,382.5 Z" fill="#f7ad1f" stroke="#1b1b1d" stroke-width="2"/>
<line x1="1059.5" y1="330" x2="1059.5" y2="382" stroke="#1b1b1d" stroke-width="1.5"/>
<g filter="url(#bl)" opacity="0.55"><path d="M309,312.8 L342,312.8 L342,307.5 L365.6,317.5 L342,328.4 L342,324.4 L309,324.4 Z" fill="#e2431b"/></g>
<path d="M309,312.8 L342,312.8 L342,307.5 L365.6,317.5 L342,328.4 L342,324.4 L309,324.4 Z" fill="#e2431b"/>
<g filter="url(#bl)" opacity="0.5"><path d="M946.5,351.8 L988,351.8 L988,347 L1011.7,356.4 L988,365.8 L988,361 L946.5,361 Z" fill="#e2431b"/><path d="M1195.4,352.3 L1165.3,352.3 L1165.3,347 L1143,356.6 L1165.3,366.3 L1165.3,360.5 L1195.4,360.5 Z" fill="#e2431b"/></g>
<path d="M946.5,351.8 L988,351.8 L988,347 L1011.7,356.4 L988,365.8 L988,361 L946.5,361 Z" fill="#e2431b"/><path d="M1195.4,352.3 L1165.3,352.3 L1165.3,347 L1143,356.6 L1165.3,366.3 L1165.3,360.5 L1195.4,360.5 Z" fill="#e2431b"/>
<path d="M257.5,311.9 C255.9,313.8 247.2,317.6 248.1,323.2 C249.0,328.8 258.5,337.3 263.2,345.7 C267.9,354.1 272.9,364.4 276.3,373.8 C279.7,383.2 282.0,393.2 283.8,401.9 C285.6,410.6 285.6,420.1 287.0,426.0 C288.4,431.9 289.4,434.8 292.0,437.5 C294.6,440.2 298.8,441.7 302.5,442.0 C306.2,442.3 311.2,441.3 314.5,439.5 C317.8,437.7 320.8,434.2 322.5,431.0 C324.2,427.8 324.7,424.9 324.5,420.0 C324.3,415.1 323.7,409.6 321.3,401.9 C318.9,394.2 314.4,382.2 310.0,373.8 C305.6,365.4 299.7,358.2 295.0,351.3 C290.3,344.4 286.9,338.1 281.9,332.5 C276.9,326.9 269.1,320.9 265.0,317.5 C260.9,314.1 258.8,312.8 257.5,311.9 Z" fill="#c3ced4" stroke="#1b1b1d" stroke-width="2" stroke-linejoin="round"/>
<circle cx="307" cy="427" r="6.5" fill="#d3dbdf" stroke="#1b1b1d" stroke-width="1.8"/>
<path d="M253.75,288.5 L261,292.7 L240.2,333.3 L231.9,329.2 Z" fill="#cdd6db" stroke="#1b1b1d" stroke-width="1.8"/>
<rect x="429.7" y="199" width="91.2" height="15.4" fill="#e9e9ee" stroke="#1b1b1d" stroke-width="2"/>
<rect x="438.6" y="214.4" width="72.6" height="104" fill="#e9eaee" stroke="#1b1b1d" stroke-width="2"/>
<rect x="438.6" y="246.4" width="72.6" height="72" fill="#5a9a58" stroke="#1b1b1d" stroke-width="2"/>
<path d="M375,318.5 L520,318.5 Q529,330 529,343.6 Q529,357 520,368.75 L375,368.75 Z" fill="#c6d0d6" stroke="#1b1b1d" stroke-width="2"/>
<path d="M492.5,318.5 L520,318.5 Q529,330 529,343.6 Q529,357 520,368.75 L492.5,368.75 Q497,343.6 492.5,318.5 Z" fill="#5a9a58" stroke="#1b1b1d" stroke-width="2"/>
<path d="M473,318.5 L492.5,318.5 Q497,343.6 492.5,368.75 L473,368.75 Q478,343.6 473,318.5 Z" fill="#d0d8dd" stroke="#1b1b1d" stroke-width="2"/>
<ellipse cx="375" cy="343.6" rx="5.5" ry="25.1" fill="#d4dce0" stroke="#1b1b1d" stroke-width="2"/>
<rect x="270" y="335.6" width="206" height="15.7" rx="4" fill="#c6d0d6" stroke="#1b1b1d" stroke-width="2"/>
<path d="M247.5,257.5 L260,259.4 C259.8,263 259.5,267 259,270.8 C258,277 257.5,282 255.8,287.5 C253,295 251,300 247.5,306.25 C243,313 240,318 235,323 C230,329 226,333 220.4,337.5 C214,343 208,348 201.7,352 C195,357 190,361 185,364.6 C180,369 177,373 174.6,377 C172,382 171.3,387 171.5,391.7 C171.8,395 172.5,399 172.5,402 C171,408 169,412 166.25,416.7 C161,423 157,427 151.7,431.25 C146,436 141,440 135,443.75 C131,446 127,448 122.5,449 C120,448.5 118.5,445 118.3,441 L118.3,435.4 Z" fill="#6b4322" stroke="#3a2414" stroke-width="2" stroke-linejoin="round"/>
<path d="M248.75,258.75 C246,257 244.5,256.6 242.5,256.1 C239,255 236,254.4 233.1,254.4 C229,254.6 226,255.8 223.75,257 C221,258 219,259 217.5,260 C214,262.5 211,264.5 208.1,266.9 C205,270 202,273 198.75,276.25 C196.5,279 195.5,283 195.4,286.5 C191,307 183,314 175,318 C155,324 130,327 108.9,329 C107,345 101,362 88,380 C82,386 77,389 72.2,391 C73,398 75,404 77,408 C80,416 84,420 90,424 C100,430 110,434 118.3,435.4 C122,434 124,432.5 126.7,431.25 C133,427 140,423 145.4,418.75 C151,414 155,409 158,404 C161,397 161.5,391 162,385.4 C163,379 164,373 166.25,368.75 C169,363 171,359 174.6,356.25 C179,352 184,347.5 189,343.75 C196,338 202,333 208,329 C214,324 219,319 224.6,314.6 C229,309 234,303 237,298 C241,291 244,284 245.4,277 C246.5,271 247.3,264 247.5,258.3 Z" fill="#f5a812" stroke="#3a2414" stroke-width="2" stroke-linejoin="round"/>
<path d="M72.4,323.5 C85,326 97,328 108.5,329.3 C107,345 101,362 88,380 C82,386 77,389 72.2,391 C62,386 50,378 41,372 C39.5,370 39.5,368 41,366 C50,352 62,337 72.4,323.5 Z" fill="#c8961a" stroke="#3a2414" stroke-width="2" stroke-linejoin="round"/>
<path d="M72.2,311.1 C85,312.5 98,314 108.9,315.6 L108.5,329.3 C96,327.5 84,325.5 72.4,323.5 Z" fill="#df8a2f" stroke="#3a2414" stroke-width="1.8" stroke-linejoin="round"/>
<path d="M108.9,315.6 C125,313 145,310 160,305.5 C175,300 188,293 194.5,286 C197,290 197,294 195.6,297.8 C191,307 183,314 175,318 C155,324 130,327 108.5,329.3 Z" fill="#cf7b2c" stroke="#3a2414" stroke-width="1.8" stroke-linejoin="round"/>
<clipPath id="lc"><path d="M105,300 L200,270 L200,300 C191,307 183,314 175,318 C155,324 130,327 108.5,329.3 Z"/></clipPath><g clip-path="url(#lc)"><rect x="110.3" y="312.9" width="5.0" height="16.7" rx="2.5" transform="rotate(8 112.8 321.2)" fill="#d9a581" stroke="#3a2414" stroke-width="1.1"/><rect x="115.8" y="312.2" width="5.0" height="16.9" rx="2.5" transform="rotate(9 118.3 320.6)" fill="#d9a581" stroke="#3a2414" stroke-width="1.1"/><rect x="121.5" y="311.4" width="5.0" height="17.1" rx="2.5" transform="rotate(10 124.0 320.0)" fill="#d9a581" stroke="#3a2414" stroke-width="1.1"/><rect x="127.1" y="310.7" width="5.0" height="17.3" rx="2.5" transform="rotate(11 129.6 319.4)" fill="#d9a581" stroke="#3a2414" stroke-width="1.1"/><rect x="132.7" y="310.0" width="5.0" height="17.5" rx="2.5" transform="rotate(12 135.2 318.7)" fill="#d9a581" stroke="#3a2414" stroke-width="1.1"/><rect x="138.5" y="308.6" width="5.0" height="18.0" rx="2.5" transform="rotate(13 141.0 317.7)" fill="#d9a581" stroke="#3a2414" stroke-width="1.1"/><rect x="144.5" y="307.3" width="5.0" height="18.5" rx="2.5" transform="rotate(14 147.0 316.6)" fill="#d9a581" stroke="#3a2414" stroke-width="1.1"/><rect x="150.5" y="306.0" width="5.0" height="19.0" rx="2.5" transform="rotate(15 153.0 315.5)" fill="#d9a581" stroke="#3a2414" stroke-width="1.1"/><rect x="158.2" y="303.9" width="5.6" height="19.8" rx="2.8" transform="rotate(16 161.0 313.8)" fill="#d9a581" stroke="#3a2414" stroke-width="1.1"/><rect x="168.7" y="300.1" width="5.6" height="20.4" rx="2.8" transform="rotate(18 171.5 310.3)" fill="#d9a581" stroke="#3a2414" stroke-width="1.1"/><rect x="178.2" y="296.2" width="5.6" height="21.3" rx="2.8" transform="rotate(20 181.0 306.8)" fill="#d9a581" stroke="#3a2414" stroke-width="1.1"/><rect x="186.7" y="289.3" width="5.6" height="17.4" rx="2.8" transform="rotate(21 189.5 298.0)" fill="#d9a581" stroke="#3a2414" stroke-width="1.1"/></g>
<path d="M166.25,332.3 C160,335 155,337 151.7,339.6 C145,343 138,347 130.8,350 C124,354 119,357 116.25,360.4 C110,364 108,368 110,370 C112,374 114,376 116.25,377 C122,380 128,381.5 133,381.25 C140,380.5 145,379 149.6,377 C154,374 158,370 160,366.7 C163,361 165,355 165.2,350 C166,343 166.5,337 166.25,332.3 M145.4,383.3 C143,387 141.5,391 141.25,395.8 C141,401 142,406 143.3,410.4" fill="none" stroke="#8a4a12" stroke-width="1.4" stroke-dasharray="4.5 2.8"/>
<path d="M398.2,139 L398.2,275.3 L447,275.3" fill="none" stroke="#1b1b1d" stroke-width="2"/><path d="M814.8,133.3 L814.8,223.1 L970.2,321.2" fill="none" stroke="#1b1b1d" stroke-width="1.8"/><path d="M1313.75,130 L1313.75,199.25 L1130,325.7" fill="none" stroke="#1b1b1d" stroke-width="1.8"/><path d="M256.3,335 L256.3,470" fill="none" stroke="#1b1b1d" stroke-width="1.6"/><path d="M1078.75,528.75 L798.75,621.25 L798.75,718.75" fill="none" stroke="#1b1b1d" stroke-width="1.8"/>
<rect x="72.5" y="836" width="878" height="68" rx="34" fill="#f6c31a"/><rect x="88" y="831" width="834" height="78" fill="#fdfcfe"/><g filter="url(#bl3)" opacity="0.5"><ellipse cx="185" cy="842" rx="50" ry="4" fill="#f3c9a2"/><ellipse cx="175" cy="901" rx="35" ry="3.5" fill="#efc8b0"/><ellipse cx="780" cy="838" rx="120" ry="3.5" fill="#f5d060"/><ellipse cx="905" cy="868" rx="14" ry="26" fill="#f8dc80"/><ellipse cx="650" cy="898" rx="14" ry="5" fill="#d8b0a0"/></g>
<g style="font-family:'Liberation Sans', sans-serif" fill="#111113" stroke="#111113" stroke-width="0.45"><text x="346" y="61.9" font-size="25.5" letter-spacing="1.15" stroke-width="0.2">Líquido de</text><text x="339" y="119.4" font-size="35.5" letter-spacing="0.6">frenos</text><text x="744.5" y="60.7" font-size="41.5" letter-spacing="1.4">Pistón</text><text x="745" y="114.9" font-size="40" letter-spacing="0.3">grande</text><text x="1256.5" y="46.4" font-size="33.5" letter-spacing="0.95">Pastillas</text><text x="1258" y="101.7" font-size="29.3" letter-spacing="0.33" stroke-width="0.2">de freno</text><text x="164" y="228.5" font-size="42.5" letter-spacing="0.8">Presión</text><text x="758" y="359.75" font-size="42.5" letter-spacing="0.77">Presión</text><text x="139" y="505.6" font-size="38" letter-spacing="0.42">Pedal de freno</text><text x="883.5" y="503.75" font-size="40" letter-spacing="0">Eje</text><text x="672" y="757.3" font-size="33" letter-spacing="1.0">Disco de freno</text><text x="102.8" y="887.3" font-size="58" letter-spacing="1.28" stroke-width="0.9">Sistema de frenado hidráulico</text></g>
</svg>
</body></html>
